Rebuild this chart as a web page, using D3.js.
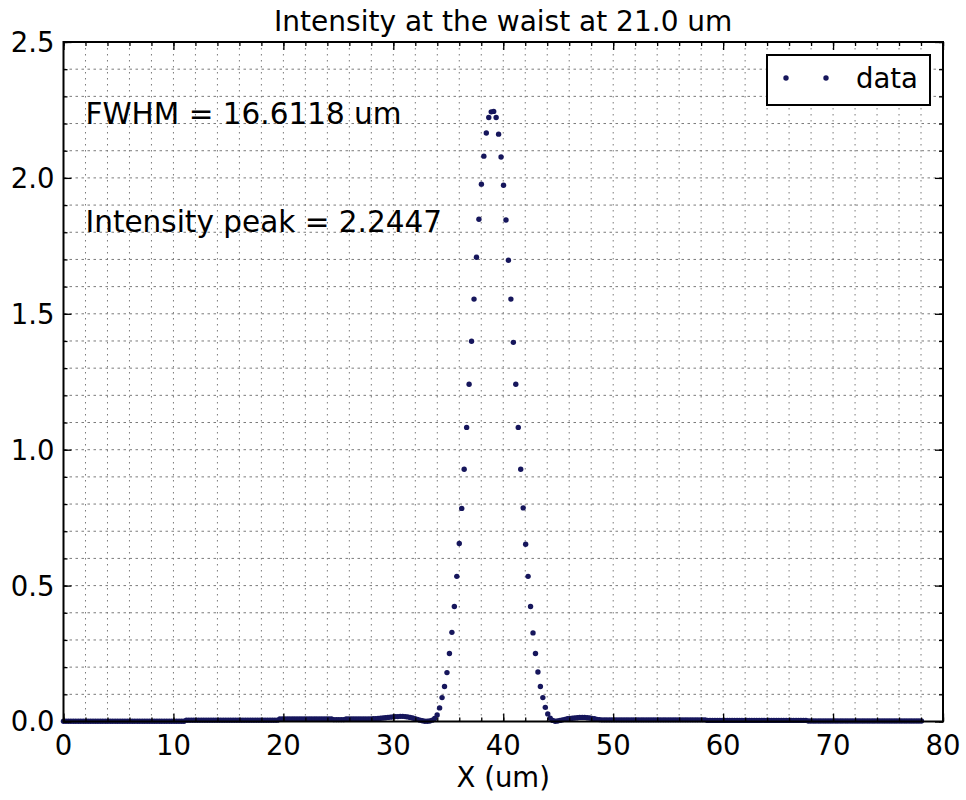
<!DOCTYPE html>
<html>
<head>
<meta charset="utf-8">
<script src="https://cdn.jsdelivr.net/npm/d3@7/dist/d3.min.js"></script>
<style>
  body { margin: 0; background: #fff; }
  svg { display: block; font-family: "DejaVu Sans", sans-serif; }
</style>
</head>
<body>
<div id="chart"></div>
<script>
// Intensity profile at the waist.
// One sample every xStep um, starting at x = 0.
var xStep = 0.2236;
var intensity = [
  // 0 - 49
  0.001,0.001,0.001,0.001,0.001,0.001,0.001,0.001,0.001,0.001,
  0.001,0.001,0.001,0.001,0.001,0.001,0.001,0.001,0.001,0.001,
  0.001,0.001,0.001,0.001,0.001,0.001,0.001,0.001,0.001,0.001,
  0.001,0.001,0.001,0.001,0.001,0.001,0.001,0.001,0.001,0.001,
  0.001,0.001,0.001,0.001,0.001,0.001,0.001,0.001,0.001,0.001,
  // 50 - 99
  0.005,0.005,0.005,0.005,0.005,0.005,0.005,0.005,0.005,0.005,
  0.005,0.005,0.005,0.005,0.005,0.005,0.005,0.005,0.005,0.005,
  0.005,0.005,0.005,0.005,0.005,0.005,0.005,0.005,0.005,0.005,
  0.005,0.005,0.005,0.005,0.005,0.005,0.005,0.005,0.009,0.009,
  0.009,0.009,0.009,0.009,0.009,0.009,0.009,0.009,0.009,0.009,
  // 100 - 149
  0.009,0.009,0.009,0.009,0.009,0.009,0.009,0.009,0.009,0.009,
  0.007,0.007,0.007,0.007,0.007,0.009,0.009,0.009,0.009,0.009,
  0.009,0.009,0.009,0.009,0.009,0.009,0.010,0.010,0.011,0.012,
  0.013,0.014,0.015,0.016,0.017,0.018,0.018,0.019,0.019,0.018,
  0.017,0.015,0.013,0.010,0.008,0.005,0.003,0.001,0.001,0.002,
  // 150 - 199 (the peak)
  0.005,0.011,0.024,0.050,0.088,0.129,0.180,0.250,0.328,0.423,
  0.534,0.655,0.784,0.928,1.082,1.241,1.399,1.554,1.708,1.848,
  1.977,2.080,2.165,2.222,2.243,2.2447,2.222,2.161,2.077,1.973,
  1.845,1.697,1.554,1.395,1.241,1.082,0.928,0.786,0.652,0.534,
  0.423,0.326,0.250,0.182,0.129,0.088,0.052,0.028,0.012,0.004,
  // 200 - 249
  0.001,0.002,0.004,0.006,0.008,0.010,0.011,0.012,0.013,0.014,
  0.015,0.015,0.015,0.014,0.013,0.011,0.010,0.008,0.007,0.006,
  0.006,0.006,0.006,0.006,0.006,0.006,0.006,0.006,0.006,0.006,
  0.006,0.006,0.006,0.006,0.006,0.006,0.006,0.006,0.006,0.006,
  0.006,0.006,0.006,0.006,0.006,0.006,0.006,0.006,0.006,0.006,
  // 250 - 299
  0.006,0.006,0.006,0.006,0.006,0.006,0.006,0.006,0.006,0.006,
  0.006,0.006,0.004,0.004,0.004,0.004,0.004,0.004,0.004,0.004,
  0.004,0.004,0.004,0.004,0.004,0.004,0.004,0.004,0.004,0.004,
  0.004,0.004,0.004,0.004,0.004,0.004,0.004,0.004,0.004,0.004,
  0.004,0.004,0.004,0.004,0.004,0.004,0.004,0.004,0.004,0.004,
  // 300 - 349
  0.004,0.004,0.004,0.002,0.002,0.002,0.002,0.002,0.002,0.002,
  0.002,0.002,0.002,0.002,0.002,0.002,0.002,0.002,0.002,0.002,
  0.002,0.002,0.002,0.002,0.002,0.002,0.002,0.002,0.002,0.002,
  0.002,0.002,0.002,0.002,0.002,0.002,0.002,0.002,0.002,0.002,
  0.002,0.002,0.002,0.002,0.002,0.002,0.002,0.002,0.002,0.002
];

var xTicks = [0, 10, 20, 30, 40, 50, 60, 70, 80];
var yTicks = [0.0, 0.5, 1.0, 1.5, 2.0, 2.5];
var titleText = "Intensity at the waist at 21.0 um";
var xLabelText = "X (um)";
var legendLabels = ["data"];
// text annotations, placed in data coordinates like plt.text()
var notes = [
  {x: 2, y: 2.2, text: "FWHM = 16.6118 um"},
  {x: 2, y: 1.8, text: "Intensity peak = 2.2447"}
];

var chartWidth = 966
  , chartHeight = 800;
var plot = {left: 63.5, right: 943, top: 42, bottom: 721.5};
var dotColor = "#16165c";

var xScale = d3.scaleLinear()
    .domain([0, 80])
    .range([plot.left, plot.right]);

var yScale = d3.scaleLinear()
    .domain([0, 2.5])
    .range([plot.bottom, plot.top]);

var xMinor = d3.range(0, 80.001, 2);
var yMinor = d3.range(0, 2.5001, 0.1);

var svg = d3.select("#chart")
  .append("svg")
  .attr("width", chartWidth)
  .attr("height", chartHeight)
  ;

svg.append("rect")
  .attr("width", chartWidth)
  .attr("height", chartHeight)
  .attr("fill", "#fff");

// dotted grid, major and minor alike
var grid = svg.append("g").attr("class", "grid");
grid.selectAll("line.vx")
  .data(xMinor)
  .enter().append("line")
  .attr("x1", function(d) { return xScale(d); })
  .attr("x2", function(d) { return xScale(d); })
  .attr("y1", plot.top)
  .attr("y2", plot.bottom)
  .attr("stroke", "#7a7a7a")
  .attr("stroke-width", 1)
  .attr("stroke-dasharray", "1.5,4.5");

grid.selectAll("line.hy")
  .data(yMinor)
  .enter().append("line")
  .attr("x1", plot.left)
  .attr("x2", plot.right)
  .attr("y1", function(d) { return yScale(d); })
  .attr("y2", function(d) { return yScale(d); })
  .attr("stroke", "#7a7a7a")
  .attr("stroke-width", 1)
  .attr("stroke-dasharray", "2.5,3.5");

// data points
svg.append("g")
  .attr("class", "points")
  .selectAll("circle")
  .data(intensity)
  .enter().append("circle")
  .attr("cx", function(d, i) { return xScale(i * xStep); })
  .attr("cy", function(d) { return yScale(d); })
  .attr("r", 2.7)
  .attr("fill", dotColor);

// axes: ticks point inward on all four sides (classic matplotlib look)
function tickSet(axis, size) {
  return axis.tickSize(size).tickSizeOuter(0).tickFormat("");
}

svg.append("g")
  .attr("transform", "translate(0," + plot.bottom + ")")
  .call(tickSet(d3.axisTop(xScale).tickValues(xMinor), 4));
svg.append("g")
  .attr("transform", "translate(0," + plot.bottom + ")")
  .call(tickSet(d3.axisTop(xScale).tickValues(xTicks), 8));
svg.append("g")
  .attr("transform", "translate(0," + plot.top + ")")
  .call(tickSet(d3.axisBottom(xScale).tickValues(xMinor), 4));
svg.append("g")
  .attr("transform", "translate(0," + plot.top + ")")
  .call(tickSet(d3.axisBottom(xScale).tickValues(xTicks), 8));
svg.append("g")
  .attr("transform", "translate(" + plot.left + ",0)")
  .call(tickSet(d3.axisRight(yScale).tickValues(yMinor), 4));
svg.append("g")
  .attr("transform", "translate(" + plot.left + ",0)")
  .call(tickSet(d3.axisRight(yScale).tickValues(yTicks), 8));
svg.append("g")
  .attr("transform", "translate(" + plot.right + ",0)")
  .call(tickSet(d3.axisLeft(yScale).tickValues(yMinor), 4));
svg.append("g")
  .attr("transform", "translate(" + plot.right + ",0)")
  .call(tickSet(d3.axisLeft(yScale).tickValues(yTicks), 8));

svg.selectAll(".tick line")
  .attr("stroke", "#000")
  .attr("stroke-width", 1.3);
svg.selectAll(".domain").remove();

// tick labels
svg.append("g")
  .selectAll("text")
  .data(xTicks)
  .enter().append("text")
  .attr("x", function(d) { return xScale(d); })
  .attr("y", plot.bottom + 33)
  .attr("text-anchor", "middle")
  .style("font-size", "27.5px")
  .text(function(d) { return d; });

svg.append("g")
  .selectAll("text")
  .data(yTicks)
  .enter().append("text")
  .attr("x", plot.left - 9)
  .attr("y", function(d) { return yScale(d); })
  .attr("dy", "0.36em")
  .attr("text-anchor", "end")
  .style("font-size", "27.5px")
  .text(function(d) { return d3.format(".1f")(d); });

// frame
svg.append("rect")
  .attr("x", plot.left)
  .attr("y", plot.top)
  .attr("width", plot.right - plot.left)
  .attr("height", plot.bottom - plot.top)
  .attr("fill", "none")
  .attr("stroke", "#000")
  .attr("stroke-width", 2);

// title and axis label
svg.append("text")
  .attr("x", (plot.left + plot.right) / 2)
  .attr("y", 31)
  .attr("text-anchor", "middle")
  .style("font-size", "28px")
  .text(titleText);

svg.append("text")
  .attr("x", (plot.left + plot.right) / 2)
  .attr("y", 787)
  .attr("text-anchor", "middle")
  .style("font-size", "27.5px")
  .text(xLabelText);

// annotations
svg.append("g")
  .selectAll("text")
  .data(notes)
  .enter().append("text")
  .attr("x", function(d) { return xScale(d.x); })
  .attr("y", function(d) { return yScale(d.y); })
  .style("font-size", "29.5px")
  .text(function(d) { return d.text; });

// legend, two markers like numpoints=2
var legend = svg.append("g").attr("class", "legend");
legend.append("rect")
  .attr("x", 767)
  .attr("y", 55)
  .attr("width", 163)
  .attr("height", 50)
  .attr("fill", "#fff")
  .attr("stroke", "#000")
  .attr("stroke-width", 2);
legend.selectAll("circle")
  .data([786, 826])
  .enter().append("circle")
  .attr("cx", function(d) { return d; })
  .attr("cy", 78)
  .attr("r", 2.7)
  .attr("fill", dotColor);
legend.append("text")
  .attr("x", 856)
  .attr("y", 88)
  .style("font-size", "27.5px")
  .text(legendLabels[0]);
</script>
</body>
</html>
